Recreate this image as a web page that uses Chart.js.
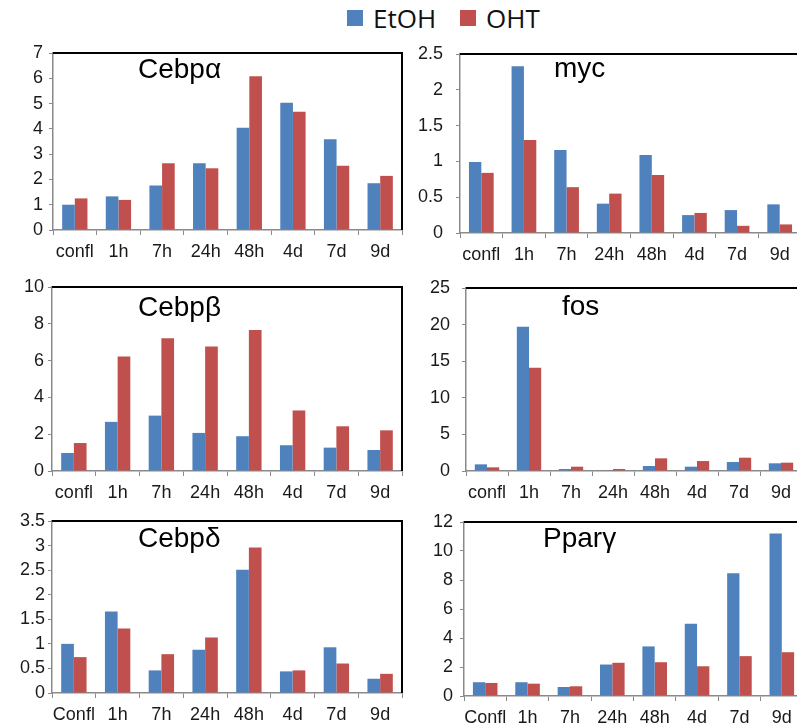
<!DOCTYPE html>
<html>
<head>
<meta charset="utf-8">
<script src="https://cdn.jsdelivr.net/npm/chart.js@4.4.1/dist/chart.umd.min.js"></script>
<style>
    html, body { margin: 0; padding: 0; background: #fff; overflow: hidden; }
    body { width: 797px; height: 728px; position: relative; }
    canvas { position: absolute; }
    .title { position: absolute; font-family: "Liberation Sans", Arial, sans-serif; font-size: 28px; line-height: 28px; color: #000; white-space: nowrap; }
    .legend { position: absolute; top: 0; left: 347px; height: 36px; font-family: "Open Sans", sans-serif; font-size: 26px; color: #111; display: flex; align-items: center; }
    .legend span.box { display: inline-block; width: 16px; height: 16px; margin-right: 10px; }
    .legend span.lbl { margin-right: 24px; }
</style>
</head>
<body>

<div class="legend">
    <span class="box" style="background:#4F81BD"></span><span class="lbl">EtOH</span>
    <span class="box" style="background:#C0504D"></span><span class="lbl">OHT</span>
</div>

<script>
// ============================================
// Gene expression time course, EtOH vs OHT
// ============================================

const categoriesLower = ['confl', '1h', '7h', '24h', '48h', '4d', '7d', '9d'];
const categoriesUpper = ['Confl', '1h', '7h', '24h', '48h', '4d', '7d', '9d'];

const cebpaEtoh = [1.00, 1.33, 1.76, 2.64, 4.04, 5.03, 3.59, 1.85];
const cebpaOht  = [1.25, 1.19, 2.64, 2.44, 6.08, 4.68, 2.54, 2.14];
const cebpaTicks = [0, 1, 2, 3, 4, 5, 6, 7];

const mycEtoh = [0.99, 2.33, 1.16, 0.41, 1.09, 0.25, 0.32, 0.40];
const mycOht  = [0.84, 1.30, 0.64, 0.55, 0.81, 0.28, 0.10, 0.12];
const mycTicks = [0, 0.5, 1, 1.5, 2, 2.5];

const cebpbEtoh = [0.98, 2.67, 3.01, 2.07, 1.89, 1.40, 1.27, 1.14];
const cebpbOht  = [1.52, 6.22, 7.22, 6.77, 7.66, 3.29, 2.43, 2.21];
const cebpbTicks = [0, 2, 4, 6, 8, 10];

const fosEtoh = [0.91, 19.7, 0.27, 0.05, 0.68, 0.59, 1.23, 1.05];
const fosOht  = [0.50, 14.1, 0.59, 0.27, 1.73, 1.36, 1.82, 1.14];
const fosTicks = [0, 5, 10, 15, 20, 25];

const cebpdEtoh = [1.00, 1.66, 0.46, 0.88, 2.51, 0.44, 0.93, 0.29];
const cebpdOht  = [0.73, 1.31, 0.79, 1.13, 2.96, 0.46, 0.60, 0.39];
const cebpdTicks = [0, 0.5, 1, 1.5, 2, 2.5, 3, 3.5];

const pparEtoh = [0.95, 0.95, 0.62, 2.17, 3.42, 4.99, 8.47, 11.2];
const pparOht  = [0.90, 0.85, 0.67, 2.29, 2.33, 2.05, 2.75, 3.02];
const pparTicks = [0, 2, 4, 6, 8, 10, 12];

const ETOH_COLOR = '#4F81BD';
const OHT_COLOR = '#C0504D';
const AXIS_COLOR = '#8a8a8a';
const TEXT_COLOR = '#1a1a1a';
const FONT = { family: '"Liberation Sans", Arial, sans-serif', size: 18 };
const TOP_PAD = 26;

// panel placement: canvas box + plot area offsets
const panels = [
    { title: 'Cebpα', labels: categoriesLower, etoh: cebpaEtoh, oht: cebpaOht, ticks: cebpaTicks,
      x: 0, y: 27, w: 405, h: 233, yWidth: 53, yPad: 6, titleX: 138, titleY: 55 },
    { title: 'myc', labels: categoriesLower, etoh: mycEtoh, oht: mycOht, ticks: mycTicks,
      x: 400, y: 28, w: 404, h: 235, yWidth: 60, yPad: 13, titleX: 554, titleY: 54 },
    { title: 'Cebpβ', labels: categoriesLower, etoh: cebpbEtoh, oht: cebpbOht, ticks: cebpbTicks,
      x: 0, y: 261, w: 405, h: 240, yWidth: 52, yPad: 4, titleX: 138, titleY: 293 },
    { title: 'fos', labels: categoriesLower, etoh: fosEtoh, oht: fosOht, ticks: fosTicks,
      x: 400, y: 262, w: 405, h: 239, yWidth: 66, yPad: 12, titleX: 562, titleY: 292 },
    { title: 'Cebpδ', labels: categoriesUpper, etoh: cebpdEtoh, oht: cebpdOht, ticks: cebpdTicks,
      x: 0, y: 495, w: 405, h: 228, yWidth: 52, yPad: 3, titleX: 138, titleY: 524 },
    { title: 'Pparγ', labels: categoriesUpper, etoh: pparEtoh, oht: pparOht, ticks: pparTicks,
      x: 400, y: 496, w: 406, h: 230, yWidth: 64, yPad: 7, titleX: 543, titleY: 524 }
];

// black frame on top and right of the plot area
const framePlugin = {
    id: 'frame',
    afterDraw(chart) {
        const { ctx, chartArea: a } = chart;
        ctx.save();
        ctx.strokeStyle = '#000';
        ctx.lineWidth = 2;
        ctx.beginPath();
        ctx.moveTo(a.left, a.top);
        ctx.lineTo(a.right, a.top);
        ctx.lineTo(a.right, a.bottom);
        ctx.stroke();
        ctx.restore();
    }
};

function buildPanel(p) {
    const canvas = document.createElement('canvas');
    canvas.width = p.w;
    canvas.height = p.h;
    canvas.style.left = p.x + 'px';
    canvas.style.top = p.y + 'px';
    canvas.style.width = p.w + 'px';
    canvas.style.height = p.h + 'px';
    document.body.appendChild(canvas);

    const title = document.createElement('div');
    title.className = 'title';
    title.textContent = p.title;
    title.style.left = p.titleX + 'px';
    title.style.top = p.titleY + 'px';
    document.body.appendChild(title);

    new Chart(canvas, {
        type: 'bar',
        data: {
            labels: p.labels,
            datasets: [
                { label: 'EtOH', data: p.etoh, backgroundColor: ETOH_COLOR },
                { label: 'OHT', data: p.oht, backgroundColor: OHT_COLOR }
            ]
        },
        options: {
            responsive: false,
            animation: false,
            layout: { padding: { top: TOP_PAD, right: 3, left: 0, bottom: 0 } },
            datasets: { bar: { categoryPercentage: 0.58, barPercentage: 1 } },
            plugins: {
                legend: { display: false },
                tooltip: { enabled: false }
            },
            scales: {
                x: {
                    grid: { display: true, drawOnChartArea: false, drawTicks: true, tickLength: 5, color: AXIS_COLOR, offset: true },
                    border: { color: AXIS_COLOR, width: 1.5 },
                    ticks: { font: FONT, color: TEXT_COLOR, padding: 6, maxRotation: 0, autoSkip: false },
                    afterFit: s => { s.height = 30; }
                },
                y: {
                    min: p.ticks[0],
                    max: p.ticks[p.ticks.length - 1],
                    grid: { display: true, drawOnChartArea: false, drawTicks: true, tickLength: 4, color: AXIS_COLOR },
                    border: { color: AXIS_COLOR, width: 1.5 },
                    ticks: {
                        stepSize: p.ticks[1] - p.ticks[0],
                        autoSkip: false,
                        font: FONT,
                        color: TEXT_COLOR,
                        padding: p.yPad,
                        callback: v => String(+v.toFixed(2))
                    },
                    afterFit: s => { s.width = p.yWidth; }
                }
            }
        },
        plugins: [framePlugin]
    });
}

panels.forEach(buildPanel);
</script>
</body>
</html>
